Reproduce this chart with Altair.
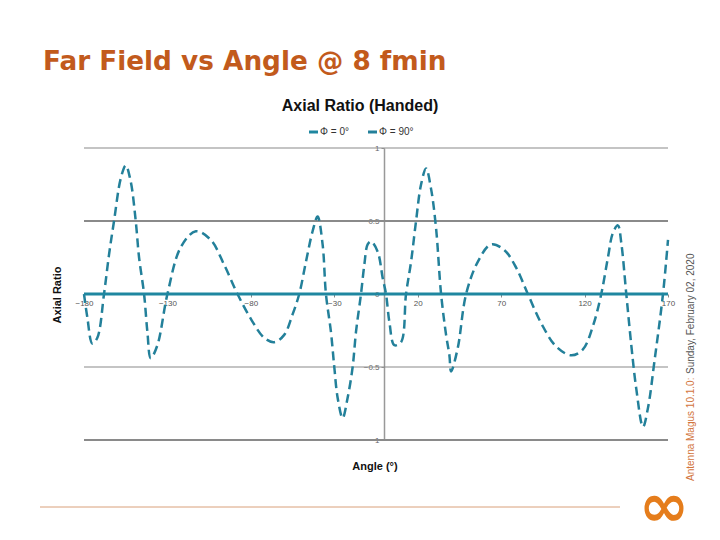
import altair as alt
import pandas as pd

# ---- data ----
phi0_angles = [-180, 170]
phi0_values = [0.0, 0.0]

phi90_angles = [-180, -178, -175, -172, -168, -165, -162, -158, -155, -152, -149, -147,
                -144, -142, -140, -136, -130, -122, -113, -104, -96, -88, -80, -72,
                -66, -60, -55, -51, -47, -43, -40, -37, -35, -32, -30, -28,
                -25, -22, -19, -17, -14, -12, -10, -8, -4, -1, 1, 3, 6, 10, 13, 16,
                19, 22, 25, 28, 31, 34, 37, 39, 40, 44, 49, 56, 64, 72, 79, 86,
                94, 103, 112, 119, 125, 130, 134, 137, 140, 142, 145, 148, 151,
                155, 158, 162, 167, 170]
phi90_values = [0.0, -0.16, -0.34, -0.30, 0.0, 0.27, 0.5, 0.79, 0.88, 0.77, 0.5, 0.25,
                0.0, -0.26, -0.44, -0.35, 0.0, 0.32, 0.43, 0.37, 0.20, 0.0, -0.17, -0.30,
                -0.33, -0.28, -0.14, 0.0, 0.22, 0.43, 0.53, 0.34, 0.0, -0.26,
                -0.5, -0.71, -0.85, -0.71, -0.5, -0.26, 0.0, 0.2, 0.34, 0.36, 0.29, 0.11,
                0.0, -0.19, -0.35, -0.33, 0.0, 0.22, 0.5, 0.75, 0.86, 0.72, 0.45, 0.0,
                -0.28, -0.42, -0.53, -0.37, 0.0, 0.22, 0.34, 0.30, 0.18, 0.0,
                -0.20, -0.36, -0.42, -0.38, -0.22, 0.0, 0.25, 0.42, 0.47, 0.35,
                0.0, -0.35, -0.65, -0.91, -0.78, -0.45, 0.0, 0.37]

x_ticks = [-180, -130, -80, -30, 20, 70, 120, 170]
y_ticks = [-1, -0.5, 0, 0.5, 1]
grid_thin = [1, -0.5]
grid_thick = [0.5, -1]

series_names = ["Φ = 0°", "Φ = 90°"]

W, H = 584, 292
TEAL = "#1f87a0"
TEAL2 = "#23809a"
ORANGE = "#c25a1c"

df0 = pd.DataFrame({"angle": phi0_angles, "ar": phi0_values})
df90 = pd.DataFrame({"angle": phi90_angles, "ar": phi90_values})

xs = alt.Scale(domain=[-180, 170], nice=False, zero=False)
ys = alt.Scale(domain=[-1, 1], nice=False)

x_axis = alt.Axis(orient="bottom", offset=-H / 2, values=x_ticks, domain=False,
                  ticks=True, tickSize=3, tickColor="#888", labelFontSize=8,
                  labelColor="#555", labelPadding=2, labelFlush=False,
                  labelOverlap=False, grid=False, title=None, labelFont="Liberation Sans")
y_axis = alt.Axis(orient="left", offset=-300, values=y_ticks, format="~g",
                  domain=True, domainColor="#999", domainWidth=1.5, ticks=True,
                  tickSize=3, tickColor="#999", labelFontSize=8, labelColor="#666",
                  labelPadding=2, labelFlush=False, labelOverlap=False, grid=False,
                  title=None, labelFont="Liberation Sans")

X = alt.X("angle:Q", scale=xs, axis=x_axis)
Y = alt.Y("ar:Q", scale=ys, axis=y_axis)

grid1 = alt.Chart(pd.DataFrame({"ar": grid_thin})).mark_rule(
    color="#8a8a8a", strokeWidth=1.2).encode(y=Y)
grid2 = alt.Chart(pd.DataFrame({"ar": grid_thick})).mark_rule(
    color="#8a8a8a", strokeWidth=2.2).encode(y=Y)

line0 = alt.Chart(df0).mark_line(color=TEAL, strokeWidth=3).encode(x=X, y=Y)
line90 = alt.Chart(df90).mark_line(color=TEAL2, strokeWidth=2.5,
                                   strokeDash=[9, 5], interpolate="catmull-rom").encode(x=X, y=Y)


def txt(text, x, y, size, color="#000", weight="normal", align="left",
        baseline="alphabetic", angle=0, font="Liberation Sans"):
    return alt.Chart(pd.DataFrame({"t": [text]})).mark_text(
        fontSize=size, color=color, fontWeight=weight, align=align,
        baseline=baseline, angle=angle, font=font
    ).encode(text="t:N", x=alt.value(x), y=alt.value(y))


def seg(x1, x2, y, color, width):
    return alt.Chart(pd.DataFrame({"a": [0]})).mark_rule(
        color=color, strokeWidth=width).encode(
        x=alt.value(x1), x2=alt.value(x2), y=alt.value(y))


ox, oy = 84, 148
annotations = [
    txt("Far Field vs Angle @ 8 fmin", 43 - ox, 70 - oy, 26.3, ORANGE, "bold",
        font="DejaVu Sans"),
    txt("Axial Ratio (Handed)", 360 - ox, 111 - oy, 16, "#111", "bold", align="center"),
    seg(309 - ox, 318 - ox, 132 - oy, TEAL, 3),
    txt(series_names[0], 320 - ox, 132 - oy, 10, "#333", baseline="middle"),
    seg(368 - ox, 377 - ox, 132 - oy, TEAL2, 3),
    txt(series_names[1], 379 - ox, 132 - oy, 10, "#333", baseline="middle"),
    txt("Axial Ratio", 58 - ox, 295 - oy, 11, "#111", "bold", align="center",
        baseline="middle", angle=270),
    txt("Angle (°)", 375 - ox, 470 - oy, 11, "#111", "bold", align="center"),
    txt("Antenna Magus 10.1.0:", 694 - ox, 481 - oy, 10, "#d2743c", angle=270),
    txt("Sunday, February 02, 2020", 694 - ox, 374 - oy, 10, "#555", angle=270),
    seg(40 - ox, 620 - ox, 507 - oy, "#d9a07a", 1),
    txt("∞", 664 - ox, 508 - oy, 60, "#e57d1c", "bold", align="center",
        baseline="middle", font="DejaVu Sans"),
]

chart = alt.layer(grid1, grid2, line90, line0, *annotations).properties(
    width=W, height=H,
    autosize=alt.AutoSizeParams(type="none"),
    padding={"left": ox, "top": oy, "right": 720 - ox - W, "bottom": 540 - oy - H},
    background="white",
).configure_view(stroke=None)

chart.save("out.html", embed_options={"renderer": "svg", "actions": False})
